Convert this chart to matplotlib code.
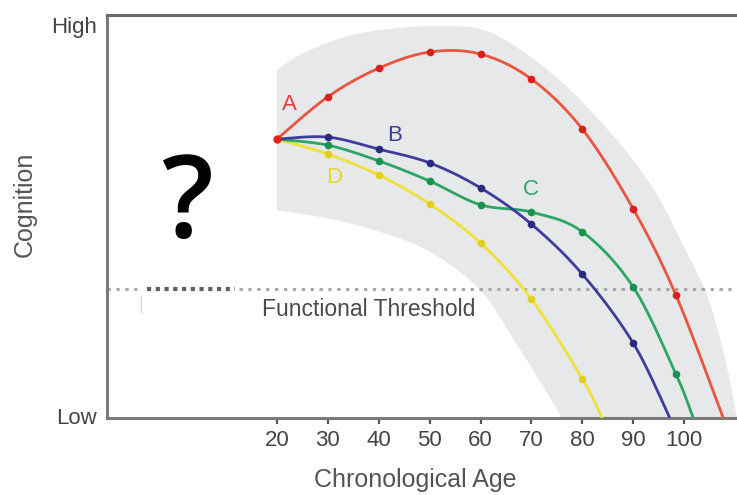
import numpy as np
from matplotlib import pyplot as plt

plt.rcParams['font.family'] = ['Liberation Sans', 'DejaVu Sans']

# curve data (age, cognition 0-100); last point is where the curve leaves the axis
ageA = [20, 30, 40, 50, 60, 70, 80, 90, 98.4, 107.7]
cogA = [69.2, 79.7, 86.8, 90.8, 90.3, 84.1, 71.7, 51.9, 30.5, 0]
ageB = [20, 30, 40, 50, 60, 70, 80, 90, 97.2]
cogB = [69.2, 69.7, 66.7, 63.3, 57.1, 48.1, 35.7, 18.6, 0]
ageC = [20, 30, 40, 50, 60, 70, 80, 90, 98.4, 101.8]
cogC = [69.2, 67.7, 63.8, 58.8, 52.9, 51.1, 46.2, 32.5, 10.9, 0]
ageD = [20, 30, 40, 50, 60, 70, 80, 83.9]
cogD = [69.2, 65.5, 60.3, 53.1, 43.4, 29.5, 9.7, 0]

# shaded envelope
bandUpperAge = [20, 24.5, 30.4, 36.3, 44.2, 52.0, 59.9, 66.4, 76.2, 86.0, 91.4, 95.3, 99.8, 104.5, 107.9, 110.4]
bandUpperCog = [86.4, 90.1, 93.3, 95.5, 96.8, 97.3, 96.5, 92.6, 83.1, 70.2, 61.5, 54.1, 42.9, 30.5, 15.6, 0]
bandLowerAge = [20, 30.4, 40.2, 50.1, 59.9, 66.5, 71.5, 76.0]
bandLowerCog = [51.6, 49.4, 46.2, 41.2, 31.8, 19.5, 9.5, 0]

threshold = 32.0
xticks = [20, 30, 40, 50, 60, 70, 80, 90, 100]


def smooth(x, y, n=24):
    # catmull-rom through the given points, only for drawing
    p = np.column_stack([x, y]).astype(float)
    p = np.vstack([p[0], p, p[-1]])
    out = []
    t = np.linspace(0, 1, n, endpoint=False)[:, None]
    for i in range(1, len(p) - 2):
        p0, p1, p2, p3 = p[i - 1], p[i], p[i + 1], p[i + 2]
        seg = 0.5 * ((2 * p1) + (-p0 + p2) * t + (2 * p0 - 5 * p1 + 4 * p2 - p3) * t ** 2
                     + (-p0 + 3 * p1 - 3 * p2 + p3) * t ** 3)
        out.append(seg)
    out.append(p[-2][None, :])
    out = np.vstack(out)
    return out[:, 0], out[:, 1]


fig = plt.figure(figsize=(7.37, 4.95), dpi=100)
ax = fig.add_axes([107 / 737, 77 / 495, 630 / 737, 403 / 495])

ux, uy = smooth(bandUpperAge, bandUpperCog)
lx, ly = smooth(bandLowerAge, bandLowerCog)
ax.fill(np.concatenate([ux, lx[::-1]]), np.concatenate([uy, ly[::-1]]),
        color='#e7e8e9', lw=0, zorder=1)

# threshold line: light dots, with a darker stretch on the left
ax.plot([-13.4, -7.5], [threshold, threshold], color='#a3a3a3', lw=2.0,
        ls=(0, (1.2, 2.0)), zorder=2)
ax.plot([-5.6, 11.7], [threshold, threshold], color='#606060', lw=3.0,
        ls=(0, (1.0, 1.1)), zorder=2)
ax.plot([12.5, 110.4], [threshold, threshold], color='#a3a3a3', lw=2.0,
        ls=(0, (1.2, 2.0)), zorder=2)
ax.plot([-6.7, -6.7], [26.3, 30.3], color='#dcd6a8', lw=1, zorder=2)
ax.text(17.05, 26.8, 'Functional Threshold', fontsize=16.5, color='#4a4a4a',
        ha='left', va='center', zorder=3)

series = [
    (ageD, cogD, '#f0e13a', '#e3cf1e'),
    (ageC, cogC, '#2aa765', '#1b9150'),
    (ageB, cogB, '#3e3d9c', '#2a2a80'),
    (ageA, cogA, '#ea553f', '#dc1f1c'),
]
for ages, cogs, col, dotcol in series:
    sx, sy = smooth(ages, cogs)
    ax.plot(sx, sy, color=col, lw=2.0, zorder=4, solid_capstyle='butt')
    ax.plot(ages[1:-1], cogs[1:-1], 'o', color=dotcol, ms=4.5, zorder=5)
ax.plot(ageA[0], cogA[0], 'o', color='#e0201b', ms=5, zorder=6)

ax.text(22.4, 77.7, 'A', color='#e0403a', fontsize=16, ha='center', va='center')
ax.text(43.2, 70.2, 'B', color='#3e3d9c', fontsize=16, ha='center', va='center')
ax.text(69.9, 56.6, 'C', color='#2aa765', fontsize=16, ha='center', va='center')
ax.text(31.2, 59.8, 'D', color='#e8d62a', fontsize=16, ha='center', va='center')

ax.text(2.3, 52.2, '?', fontsize=82, fontweight='semibold',
        family=['Open Sans', 'DejaVu Sans'],
        color='black', ha='center', va='center')

ax.set_xlim(-13.4, 110.4)
ax.set_ylim(0, 100)
ax.set_xticks(xticks)
ax.set_xticklabels([str(t) for t in xticks], fontsize=16, color='#444444')
ax.set_yticks([0.6, 97.5])
ax.set_yticklabels(['Low', 'High'], fontsize=16, color='#444444')
ax.tick_params(axis='x', direction='out', length=4, width=1.6, color='#555555', pad=5)
ax.tick_params(axis='y', length=0, pad=7)

for s in ['left', 'bottom']:
    ax.spines[s].set_color('#7a7a7a')
    ax.spines[s].set_linewidth(2.2)
ax.spines['top'].set_color('#6a6a6a')
ax.spines['top'].set_linewidth(2.2)
ax.spines['right'].set_visible(False)

ax.set_xlabel('Chronological Age', fontsize=18, color='#555555')
ax.xaxis.set_label_coords(0.489, -0.125)
ax.set_ylabel('Cognition', fontsize=18, color='#555555')
ax.yaxis.set_label_coords(-0.112, 0.53)

fig.savefig('out.png', dpi=100)
